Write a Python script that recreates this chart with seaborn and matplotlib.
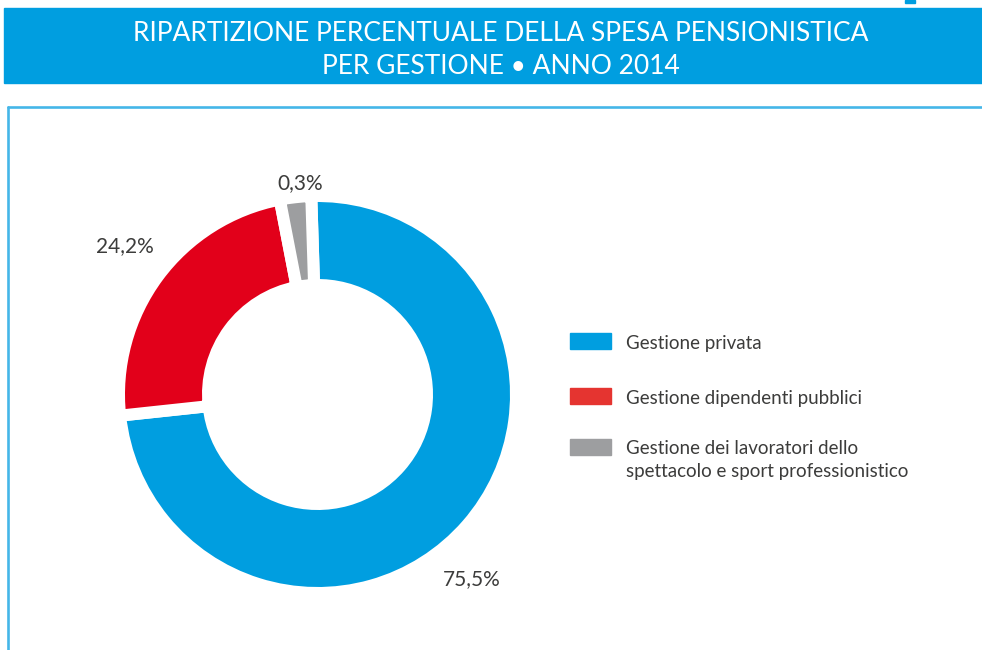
import matplotlib.pyplot as plt
import numpy as np
import seaborn as sns
from matplotlib.patches import Rectangle
from matplotlib.lines import Line2D

## data
categories = [
    "Gestione privata",
    "Gestione dipendenti pubblici",
    "Gestione dei lavoratori dello\nspettacolo e sport professionistico",
]
shares = [75.5, 24.2, 0.3]
share_labels = ["75,5%", "24,2%", "0,3%"]
pie_colors = ["#009EE0", "#E2001A", "#9D9EA0"]
legend_colors = ["#009EE0", "#E53430", "#9D9EA0"]
title = "RIPARTIZIONE PERCENTUALE DELLA SPESA PENSIONISTICA\nPER GESTIONE • ANNO 2014"

# the original draws the tiny slice wider so it stays visible
min_visible = 2.6
draw_sizes = np.maximum(shares, min_visible)

sns.set_theme(style="white")
plt.rcParams["font.family"] = ["Lato", "DejaVu Sans"]
text_col = "#3c3c3b"

W, H = 982, 650
fig = plt.figure(figsize=(W / 100, H / 100), dpi=100)

def fx(px):
    return px / W

def fy(py):
    return 1 - py / H

## title banner
fig.patches.append(Rectangle((fx(4), fy(83)), fx(978), 75 / H,
                             transform=fig.transFigure, color="#009EE0", zorder=0))
fig.patches.append(Rectangle((fx(905), fy(3)), fx(10), 3 / H,
                             transform=fig.transFigure, color="#009EE0", zorder=0))
fig.text(fx(501), fy(50), title, ha="center", va="center", color="white",
         fontsize=19, fontweight="normal", linespacing=1.44)

## panel border
border = "#45B6E8"
fig.add_artist(Line2D([fx(8), fx(8)], [0, fy(107)], color=border, lw=1.9,
                      transform=fig.transFigure))
fig.add_artist(Line2D([fx(8), 1], [fy(107), fy(107)], color=border, lw=1.9,
                      transform=fig.transFigure))

## donut
cx, cy, half = 317.5, 394.5, 200
ax = fig.add_axes([fx(cx - half), fy(cy + half), 2 * half / W, 2 * half / H])
gap_px = 12
ax.pie(draw_sizes, colors=pie_colors, startangle=91.8, counterclock=False,
       radius=(192.5 + gap_px / 2) / half,
       wedgeprops=dict(width=(77 + gap_px) / half, edgecolor="white",
                       linewidth=gap_px * 0.72))
ax.set_xlim(-1, 1)
ax.set_ylim(-1, 1)
ax.axis("off")

label_pos = [(0.7725, -0.9225), (-0.9625, 0.7425), (-0.0875, 1.0575)]
for lab, (x, y) in zip(share_labels, label_pos):
    ax.text(x, y, lab, ha="center", va="center", fontsize=15,
            color=text_col)

## legend
rows_y = [333, 388, 439]
line_step = 21.5
for cat, col, y in zip(categories, legend_colors, rows_y):
    fig.patches.append(Rectangle((fx(570), fy(y + 16)), fx(41), 16 / H,
                                 transform=fig.transFigure, color=col))
    last_base = y + 16 + line_step * cat.count("\n")
    fig.text(fx(626), fy(last_base), cat, ha="left", va="baseline", fontsize=13.5,
             color=text_col, linespacing=1.36)

fig.savefig("out.png", dpi=100)
